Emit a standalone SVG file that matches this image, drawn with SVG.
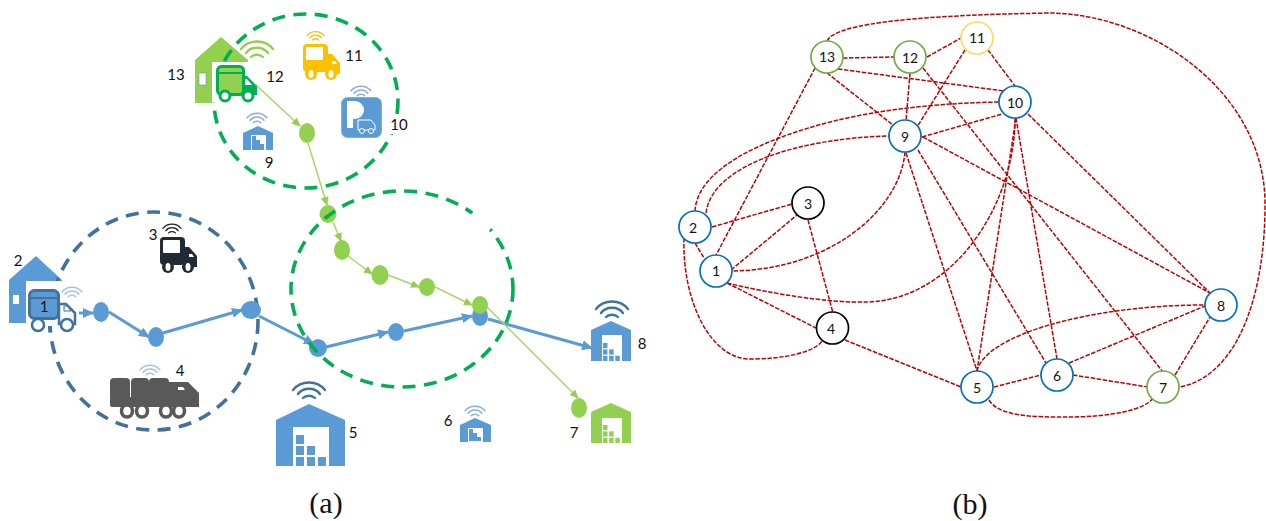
<svg xmlns="http://www.w3.org/2000/svg" width="1266" height="521" viewBox="0 0 1266 521">
<style>
text{font-family:Lato,"Open Sans",sans-serif;fill:#111}
.lab{font-size:15px;text-anchor:middle}
.cap{font-family:"Liberation Serif",serif;font-size:30px;text-anchor:middle}
.num{font-size:14px;text-anchor:middle}
.zone{fill:none;stroke-width:3.6;stroke-dasharray:13 8.500}
.blue{fill:#5b9bd5}.lime{fill:#92d050}
.bl{stroke:#5b9bd5;stroke-width:3;fill:none;marker-end:url(#ab)}
.gl{stroke:#a9d46f;stroke-width:1.5;fill:none;marker-end:url(#ag)}
.e{fill:none;stroke:#c00000;stroke-width:1.5;stroke-dasharray:4.5 1.5}
.n{fill:#fff;stroke-width:1.7;r:16px}
.wifi{fill:none;stroke-linecap:round}
</style>
<defs>
<marker id="ab" markerUnits="userSpaceOnUse" markerWidth="12" markerHeight="10" refX="10" refY="5" orient="auto"><path d="M0 0L11 5L0 10z" fill="#5b9bd5"/></marker>
<marker id="ag" markerUnits="userSpaceOnUse" markerWidth="10" markerHeight="8" refX="8" refY="4" orient="auto"><path d="M0 0L9 4L0 8z" fill="#92d050"/></marker>
<g id="wifi" class="wifi"><path d="M-16 -10C-8 -20 8 -20 16 -10M-11 -6C-6 -13 6 -13 11 -6M-6 -2C-3 -5 3 -5 6 -2" stroke-width="2.400"/></g>
<g id="truck"><rect x="0" y="0" width="25" height="28" rx="4" fill="currentColor"/><rect x="3" y="3" width="17" height="13" rx="1" fill="#fff"/><path d="M25 10h4l8 9v11H25z" fill="currentColor"/><path d="M29 17h3l2 3h-5z" fill="#fff"/><circle cx="8" cy="30" r="6" fill="currentColor"/><circle cx="28" cy="30" r="6" fill="currentColor"/><ellipse cx="8" cy="30" rx="2.500" ry="4" fill="#fff"/><ellipse cx="28" cy="30" rx="2.500" ry="4" fill="#fff"/></g>
<g id="boxes"><rect x="0" y="0" width="8" height="9"/><rect x="0" y="11" width="8" height="9"/><rect x="0" y="22" width="8" height="9"/><rect x="11" y="11" width="8" height="9"/><rect x="11" y="22" width="8" height="9"/><rect x="22" y="22" width="8" height="9"/></g>
</defs>
<rect width="1266" height="521" fill="#fff"/>

<g id="node-2"><path class="blue" d="M9 280L36 256L62 280V281H26V323H9z"/><rect x="13" y="295" width="6" height="9" fill="#fff"/><text class="lab" x="18" y="266">2</text></g>
<g id="node-13"><path class="lime" d="M195 60L221 37L248 60V62H212V103H195z"/><rect x="199" y="73" width="7" height="12" fill="#fff" stroke="#5b9bd5" stroke-width=".6"/><text class="lab" x="176" y="80">13</text></g>
<use href="#wifi" transform="translate(257 59)" stroke="#92d050"/>

<g id="zones-left">
<ellipse class="zone" cx="154" cy="321" rx="104" ry="109" stroke="#41719c"/>
<ellipse class="zone" cx="306" cy="101" rx="92" ry="87" stroke="#00b050"/>
<path d="M26 281H62V326H26z" fill="#fff"/>
<path d="M212 62H248V102H212z" fill="#fff"/>
<path d="M388 117H410V134H388z" fill="#fff"/>
</g>

<g id="connectors-a">
<path class="bl" d="M79 313L93 313"/><path class="bl" d="M109 312L149 337"/><path class="bl" d="M163 333L242 310"/><path class="bl" d="M259 316L314 344"/><path class="bl" d="M326 347L388 332"/><path class="bl" d="M404 331L472 316"/><path class="bl" d="M488 319L592 348"/>
<path class="gl" d="M256 85L300 126"/><path class="gl" d="M308 143L327 205"/><path class="gl" d="M333 222L341 241"/><path class="gl" d="M348 256L372 274"/><path class="gl" d="M388 275L419 287"/><path class="gl" d="M435 287L472 305"/><path class="gl" d="M486 306L578 398"/>
</g>
<g id="flow-points">
<ellipse class="blue" cx="101" cy="312" rx="8" ry="10"/><ellipse class="blue" cx="156" cy="337" rx="8" ry="10"/><ellipse class="blue" cx="251" cy="310" rx="10" ry="9"/><ellipse class="blue" cx="318" cy="348" rx="9" ry="9"/><ellipse class="blue" cx="396" cy="332" rx="8" ry="9"/><ellipse class="blue" cx="480" cy="316" rx="8" ry="10"/>
<ellipse class="lime" cx="307" cy="133" rx="8" ry="10"/><ellipse class="lime" cx="328" cy="214" rx="8.500" ry="9"/><ellipse class="lime" cx="342" cy="250" rx="8" ry="10"/><ellipse class="lime" cx="380" cy="275" rx="8.500" ry="10"/><ellipse class="lime" cx="427" cy="287" rx="8" ry="9"/><ellipse class="lime" cx="480" cy="305" rx="8" ry="9"/><ellipse class="lime" cx="579" cy="408" rx="8" ry="10"/>
</g>
<g id="zone-middle">
<ellipse class="zone" cx="402" cy="289" rx="111" ry="98" stroke="#00b050"/>
<path d="M476 208L496 222L488 232L470 216z" fill="#fff"/>
</g>

<g id="node-1"><use href="#wifi" transform="translate(72 298) scale(.62)" stroke="#9dc3e6"/>
<rect x="29.500" y="290.500" width="29" height="28" rx="5" fill="#5b9bd5" stroke="#41719c" stroke-width="3"/><path d="M29 298H59" stroke="#41719c" stroke-width="2"/><path d="M59 304h7l9 9v11H59z" fill="#fff" stroke="#41719c" stroke-width="2.500"/><path d="M64 306h3l4 5h-7z" fill="#fff" stroke="#41719c"/><circle cx="38" cy="325" r="6" fill="#fff" stroke="#41719c" stroke-width="2.500"/><circle cx="67" cy="325" r="6" fill="#fff" stroke="#41719c" stroke-width="2.500"/><path d="M49.500 326v6" stroke="#41719c" stroke-width="2.500"/><text class="lab" x="44" y="312">1</text></g>
<g id="node-3"><use href="#wifi" transform="translate(172 234) scale(.56)" stroke="#222"/><use href="#truck" x="160" y="237" color="#222a35"/><text class="lab" x="153" y="240">3</text></g>
<g id="node-4"><use href="#wifi" transform="translate(150 376) scale(.62)" stroke="#9dc3e6"/>
<g fill="#595959"><rect x="110" y="378" width="20" height="22" rx="4"/><rect x="131" y="378" width="18" height="22" rx="4"/><rect x="149" y="378" width="20" height="22" rx="4"/><rect x="110" y="397" width="89" height="10" rx="2"/><path d="M167 382H188L199 393V407H167z"/></g><path d="M178 390h7l-2-3h-5z" fill="#fff"/>
<g fill="#fff" stroke="#595959" stroke-width="3.500"><ellipse cx="127" cy="411" rx="5.500" ry="6"/><ellipse cx="142" cy="411" rx="5.500" ry="6"/><ellipse cx="166" cy="411" rx="5.500" ry="6"/><ellipse cx="179" cy="411" rx="5.500" ry="6"/></g><text class="lab" x="180" y="376">4</text></g>
<g id="node-5"><use href="#wifi" transform="translate(309 400)" stroke="#41719c"/><path class="blue" d="M276 420L309 404L345 420V466H276z"/><rect x="293" y="427" width="36" height="39" fill="#fff"/><use href="#boxes" x="296" y="435" class="blue"/><text class="lab" x="353" y="438">5</text></g>
<g id="node-6"><use href="#wifi" transform="translate(475 417) scale(.62)" stroke="#8faadc"/><path class="blue" d="M460 425L475 418L491 425V442H460z"/><path d="M468 428h15v14h-15z" fill="#fff"/><path class="blue" d="M469 429h4v4h4v4h4v4h-12z"/><text class="lab" x="448" y="426">6</text></g>
<g id="node-7"><path class="lime" d="M591 412L611 403L631 412V443H591z"/><rect x="602" y="418" width="20" height="25" fill="#fff"/><use href="#boxes" transform="translate(603 425) scale(.56 .58)" class="lime"/><text class="lab" x="574" y="438">7</text></g>
<g id="node-8"><use href="#wifi" transform="translate(612 319)" stroke="#41719c"/><path class="blue" d="M591 330L611 321L631 330V361H591z"/><rect x="602" y="335" width="20" height="26" fill="#fff"/><use href="#boxes" transform="translate(603 343) scale(.56 .58)" class="blue"/><text class="lab" x="642" y="349">8</text></g>
<g id="node-9"><use href="#wifi" transform="translate(257 124) scale(.62)" stroke="#8faadc"/><path class="blue" d="M243 133L258 126L273 133V150H243z"/><path d="M251 135h15v15h-15z" fill="#fff"/><path class="blue" d="M252 136h4v4h4v4h4v6h-12z"/><text class="lab" x="269" y="168">9</text></g>
<g id="node-10"><use href="#wifi" transform="translate(361 97) scale(.62)" stroke="#8faadc"/><rect x="341.500" y="97.500" width="40" height="40" rx="6" fill="#5b9bd5" stroke="#8faadc"/><path d="M347 101h8a9 9 0 0 1 0 18h-2v9h-6z" fill="#fff"/><path d="M358 120h10l3 0l4 5v5h-17z" fill="#5b9bd5" stroke="#fff"/><circle cx="362" cy="131" r="2.500" fill="#5b9bd5" stroke="#fff"/><circle cx="371" cy="131" r="2.500" fill="#5b9bd5" stroke="#fff"/><text class="lab" x="399" y="130">10</text></g>
<g id="node-11"><use href="#wifi" transform="translate(315.500 41) scale(.53)" stroke="#ffc000"/><use href="#truck" x="303" y="44" color="#ffc000"/><text class="lab" x="354" y="61">11</text></g>
<g id="node-12"><rect x="217.500" y="66.500" width="26" height="28" rx="4" fill="#92d050" stroke="#00b050" stroke-width="3"/><path d="M217 73H244" stroke="#00b050" stroke-width="2"/><path d="M244 76h3l10 10v9H244z" fill="#00b050"/><path d="M245 79h2l5 6h-7z" fill="#fff"/><circle cx="225" cy="96" r="5" fill="#fff" stroke="#00b050" stroke-width="3"/><circle cx="248" cy="96" r="5" fill="#fff" stroke="#00b050" stroke-width="3"/><text class="lab" x="275" y="82">12</text></g>
<text class="cap" x="326" y="513">(a)</text>

<g id="connectors-b">
<path class="e" d="M843 58L894 57M927 57L961 38M838 69L1004 91M827 73L893 125M815 68L715 257M910 73L906 121M923 68L1163 372M988 50L1015 86M965 50L917 127M922 137L1002 114M712 227L792 204M731 270L797 215M695 243L704 258M808 220L833 313M727 283L816 328M845 340L961 387M994 387L1041 375M1073 375L1148 387M1069 363L1205 306M1175 375L1210 317M906 153L977 371M918 150L1046 363M923 137L1210 293M1016 118L977 371M1016 118L1057 359M1028 114L1210 293"/>
<path class="e" d="M827 41C835 22 930 15 1050 13C1150 14 1262 90 1265 200C1266 290 1240 375 1180 387"/>
<path class="e" d="M695 211C697 170 760 140 830 122C890 107 950 103 999 102"/>
<path class="e" d="M706 213C712 165 800 138 889 136"/>
<path class="e" d="M905 152C900 210 830 270 732 271"/>
<path class="e" d="M727 283C790 298 850 305 880 301C960 290 1015 200 1015 118"/>
<path class="e" d="M684 238C682 300 710 359 750 359C785 359 815 352 822 341"/>
<path class="e" d="M989 400C1000 418 1040 417 1069 417C1110 417 1145 410 1153 398"/>
<path class="e" d="M977 371C985 335 1090 305 1205 305"/>
</g>
<g id="g1"><circle class="n" cx="716" cy="271" stroke="#0070c0"/><text class="num" x="716" y="276">1</text></g>
<g id="g2"><circle class="n" cx="695" cy="227" stroke="#0070c0"/><text class="num" x="693" y="233">2</text></g>
<g id="g3"><circle class="n" cx="808" cy="203" stroke="#000"/><text class="num" x="808" y="209">3</text></g>
<g id="g4"><circle class="n" cx="832.500" cy="328" stroke="#000"/><text class="num" x="831" y="334">4</text></g>
<g id="g5"><circle class="n" cx="977" cy="387" stroke="#0070c0"/><text class="num" x="977" y="393">5</text></g>
<g id="g6"><circle class="n" cx="1057" cy="375" stroke="#0070c0"/><text class="num" x="1057" y="381">6</text></g>
<g id="g7"><circle class="n" cx="1163" cy="387" stroke="#70ad47"/><text class="num" x="1163" y="393">7</text></g>
<g id="g8"><circle class="n" cx="1221" cy="305" stroke="#0070c0"/><text class="num" x="1221" y="311">8</text></g>
<g id="g9"><circle class="n" cx="905" cy="136" stroke="#0070c0"/><text class="num" x="905" y="142">9</text></g>
<g id="g10"><circle class="n" cx="1015" cy="102" stroke="#0070c0"/><text class="num" x="1015" y="108">10</text></g>
<g id="g11"><circle class="n" cx="977" cy="38" stroke="#ffd966"/><text class="num" x="977" y="43">11</text></g>
<g id="g12"><circle class="n" cx="910" cy="57" stroke="#70ad47"/><text class="num" x="910" y="63">12</text></g>
<g id="g13"><circle class="n" cx="827" cy="57" stroke="#70ad47"/><text class="num" x="827" y="62">13</text></g>
<text class="cap" x="970" y="514">(b)</text>
</svg>
